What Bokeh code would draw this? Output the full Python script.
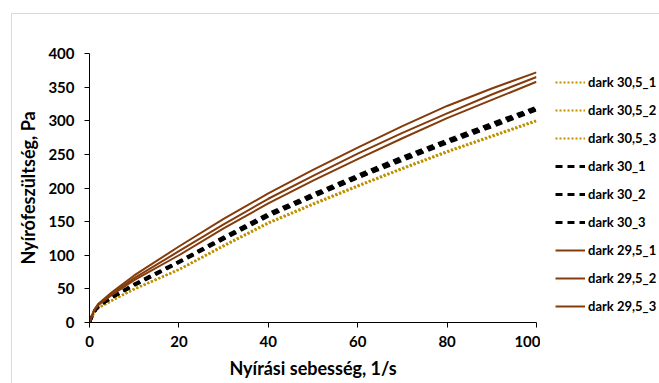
from bokeh.plotting import figure
from bokeh.layouts import row
from bokeh.models import Legend, LegendItem, InlineStyleSheet, Range1d
from bokeh.embed import file_html
from bokeh.resources import INLINE

# Shear rate, 1/s
shear_rate = [0, 1, 2, 5, 10, 20, 30, 40, 50, 60, 70, 80, 90, 100]

# Shear stress, Pa
dark_305_1 = [0, 14, 22, 33, 50, 79, 115, 149, 177, 204, 230, 255, 278, 301]
dark_305_2 = [0, 14, 22, 33, 50, 79, 114, 148, 176, 203, 229, 254, 277, 300]
dark_305_3 = [0, 14, 21, 32, 49, 78, 113, 147, 175, 202, 228, 253, 276, 299]
dark_30_1 = [0, 16, 25, 38, 57, 91, 127, 162, 191, 219, 246, 271, 296, 320]
dark_30_2 = [0, 16, 24, 37, 56, 90, 125, 159, 188, 216, 243, 268, 293, 318]
dark_30_3 = [0, 15, 24, 37, 55, 89, 124, 158, 187, 215, 241, 267, 291, 316]
dark_295_1 = [0, 18, 28, 45, 70, 113, 154, 192, 227, 260, 292, 322, 348, 372]
dark_295_2 = [0, 18, 27, 43, 66, 106, 146, 184, 218, 251, 282, 311, 339, 365]
dark_295_3 = [0, 17, 26, 41, 63, 100, 140, 177, 211, 243, 274, 304, 331, 358]

x_ticks = [0, 20, 40, 60, 80, 100]
y_ticks = [0, 50, 100, 150, 200, 250, 300, 350, 400]

FONT = "Lato"
GOLD = "#BF9000"
BROWN = "#843C0C"

BORDER_TOP = 53
BORDER_BOTTOM = 61

p = figure(width=540, height=383, x_range=(0, 100), y_range=(0, 400),
           output_backend="svg", toolbar_location=None,
           min_border_left=89, min_border_right=4,
           min_border_top=BORDER_TOP, min_border_bottom=BORDER_BOTTOM)
p.outline_line_color = None
p.xgrid.visible = False
p.ygrid.visible = False
p.background_fill_color = None
p.border_fill_color = None

for ax in (p.xaxis, p.yaxis):
    ax.axis_line_color = "black"
    ax.major_tick_line_color = "black"
    ax.minor_tick_line_color = None
    ax.major_tick_in = 0
    ax.major_tick_out = 5
    ax.major_label_text_font = FONT
    ax.major_label_text_font_style = "bold"
    ax.major_label_text_font_size = "15px"
    ax.major_label_text_color = "black"
    ax.axis_label_text_font = FONT
    ax.axis_label_text_font_style = "bold"
    ax.axis_label_text_font_size = "18px"
    ax.axis_label_text_color = "black"

p.xaxis.ticker = x_ticks
p.yaxis.ticker = y_ticks
p.xaxis.axis_label = "Nyírási sebesség, 1/s"
p.yaxis.axis_label = "Nyírófeszültség, Pa"
p.xaxis.major_label_standoff = 8
p.yaxis.major_label_standoff = 10
p.xaxis.axis_label_standoff = 7
p.yaxis.axis_label_standoff = 6

series = [
    ("dark 30,5_1", dark_305_1, GOLD, 2, "2 2"),
    ("dark 30,5_2", dark_305_2, GOLD, 2, "2 2"),
    ("dark 30,5_3", dark_305_3, GOLD, 2, "2 2"),
    ("dark 30_1", dark_30_1, "black", 3, "7 5"),
    ("dark 30_2", dark_30_2, "black", 3, "7 5"),
    ("dark 30_3", dark_30_3, "black", 3, "7 5"),
    ("dark 29,5_1", dark_295_1, BROWN, 2, "solid"),
    ("dark 29,5_2", dark_295_2, BROWN, 2, "solid"),
    ("dark 29,5_3", dark_295_3, BROWN, 2, "solid"),
]

for name, vals, color, w, dash in series:
    p.line(shear_rate, vals, line_color=color, line_width=w, line_dash=dash)

# side panel that carries the legend; its ranges keep the series off-screen
key = figure(width=119, height=383, x_range=Range1d(-20, -10), y_range=Range1d(-20, -10),
             output_backend="svg", toolbar_location=None,
             x_axis_type=None, y_axis_type=None,
             min_border_left=0, min_border_right=0,
             min_border_top=BORDER_TOP, min_border_bottom=BORDER_BOTTOM)
key.outline_line_color = None
key.xgrid.visible = False
key.ygrid.visible = False
key.background_fill_color = None
key.border_fill_color = None

items = []
for name, vals, color, w, dash in series:
    r = key.line(shear_rate, vals, line_color=color, line_width=w, line_dash=dash)
    items.append(LegendItem(label=name, renderers=[r]))

legend = Legend(items=items, location=(15, 2), orientation="vertical",
                glyph_width=30, glyph_height=28, label_height=28,
                spacing=0, padding=0, margin=0, label_standoff=3,
                label_text_font=FONT, label_text_font_style="bold",
                label_text_font_size="13px", label_text_color="black",
                border_line_color=None, background_fill_alpha=0)
key.add_layout(legend, "center")

# thin light frame around the chart area
frame_css = InlineStyleSheet(css="""
:host { position: relative; overflow: hidden; background: white; }
:host::after {
  content: "";
  position: absolute;
  left: 11px; top: 13px; right: -20px; bottom: -20px;
  border: 1px solid #D9D9D9;
  pointer-events: none;
}
""")

layout = row(p, key, stylesheets=[frame_css])

open("out.html", "w").write(file_html(layout, INLINE))
